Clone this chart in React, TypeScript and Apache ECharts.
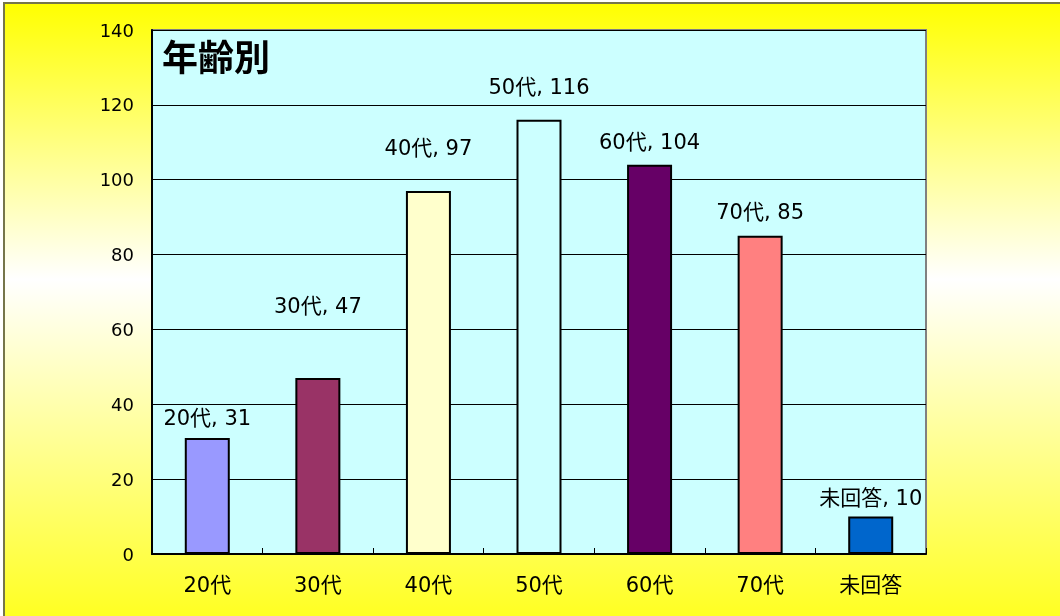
import React, { useEffect, useRef } from "react";
import * as echarts from "echarts";

const categories = ["20代", "30代", "40代", "50代", "60代", "70代", "未回答"];
const values = [31, 47, 97, 116, 104, 85, 10];
const barColors = ["#9999FF", "#993366", "#FFFFCC", "#CCFFFF", "#660066", "#FF8080", "#0066CC"];
const yTicks = { min: 0, max: 140, interval: 20 };
const titleText = "年齢別";
// distance of each data label above its bar (px), as placed in the original
const labelGaps = [9, 62, 32, 22, 12, 13, 8];

const FONT = "'DejaVu Sans', 'Noto Sans CJK JP', sans-serif";
const CJK = "'Noto Sans CJK JP', sans-serif";

export default function App() {
  const ref = useRef<HTMLDivElement>(null);
  useEffect(() => {
    if (!ref.current) return;
    const chart = echarts.init(ref.current, undefined, { renderer: "svg" });
    chart.setOption({
      animation: false,
      textStyle: { fontFamily: FONT },
      graphic: [
        {
          type: "rect",
          z: -10,
          silent: true,
          shape: { x: 4, y: 3, width: 1100, height: 614 },
          style: {
            fill: new echarts.graphic.LinearGradient(0, 0, 0, 1, [
              { offset: 0, color: "#FFFF00" },
              { offset: 0.45, color: "#FFFFFF" },
              { offset: 1, color: "#FFFF22" },
            ]),
            stroke: "#76764a",
            lineWidth: 2,
          },
        },
        {
          type: "text",
          left: 162,
          top: 37,
          z: 10,
          style: {
            text: titleText,
            font: `bold 36px ${CJK}`,
            fill: "#000",
          },
        },
      ],
      grid: {
        left: 152,
        top: 30,
        width: 774,
        height: 524,
        show: true,
        backgroundColor: "#CCFFFF",
        borderColor: "#808080",
        borderWidth: 2,
      },
      xAxis: {
        type: "category",
        data: categories,
        axisLine: { lineStyle: { color: "#000", width: 2 } },
        axisTick: { show: true, inside: true, length: 6, lineStyle: { color: "#000" } },
        axisLabel: { color: "#000", fontSize: 21, margin: 20, fontFamily: FONT },
      },
      yAxis: {
        type: "value",
        min: yTicks.min,
        max: yTicks.max,
        interval: yTicks.interval,
        axisLine: { show: true, lineStyle: { color: "#000", width: 2 } },
        axisTick: { show: false },
        splitLine: { lineStyle: { color: "#000", width: 1 } },
        axisLabel: { color: "#000", fontSize: 18, margin: 18, fontFamily: FONT },
      },
      series: [
        {
          type: "bar",
          barWidth: 45,
          data: values.map((v, i) => ({
            value: v,
            itemStyle: { color: barColors[i], borderColor: "#000", borderWidth: 2 },
            label: { distance: labelGaps[i] },
          })),
          label: {
            show: true,
            position: "top",
            formatter: "{b}, {c}",
            color: "#000",
            fontSize: 21,
            fontFamily: FONT,
          },
        },
      ],
    });
    return () => chart.dispose();
  }, []);
  return (
    <div
      ref={ref}
      style={{ position: "fixed", left: 0, top: 0, width: 1060, height: 616 }}
    />
  );
}
